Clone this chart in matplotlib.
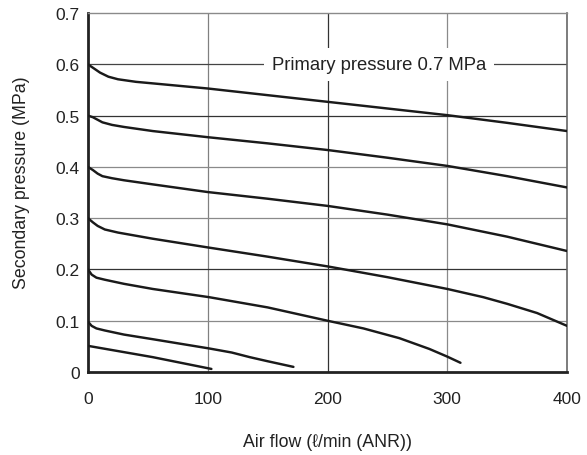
import matplotlib
matplotlib.use("Agg")
import matplotlib.pyplot as plt

plt.rcParams['font.family'] = ['Liberation Sans', 'DejaVu Sans']

# Data
x_p06 = [0, 5, 10, 17, 25, 40, 54, 100, 150, 200, 250, 300, 350, 400]
y_p06 = [0.600, 0.592, 0.584, 0.576, 0.571, 0.566, 0.563, 0.553, 0.540, 0.527, 0.514, 0.501, 0.486, 0.470]
x_p05 = [0, 4, 8, 12, 20, 30, 54, 100, 150, 200, 250, 300, 350, 400]
y_p05 = [0.500, 0.497, 0.492, 0.487, 0.482, 0.478, 0.470, 0.458, 0.446, 0.433, 0.418, 0.402, 0.382, 0.360]
x_p04 = [0, 4, 8, 12, 20, 30, 54, 100, 150, 200, 250, 300, 350, 400]
y_p04 = [0.400, 0.394, 0.387, 0.382, 0.378, 0.374, 0.366, 0.351, 0.338, 0.324, 0.307, 0.288, 0.264, 0.236]
x_p03 = [0, 4, 8, 14, 25, 54, 100, 150, 200, 250, 300, 330, 350, 375, 400]
y_p03 = [0.300, 0.292, 0.285, 0.278, 0.272, 0.260, 0.243, 0.225, 0.206, 0.185, 0.162, 0.146, 0.133, 0.115, 0.090]
x_p02 = [0, 3, 7, 14, 30, 54, 101, 150, 200, 230, 260, 285, 300, 311]
y_p02 = [0.200, 0.190, 0.184, 0.180, 0.172, 0.162, 0.146, 0.126, 0.100, 0.085, 0.066, 0.045, 0.030, 0.018]
x_p01 = [0, 3, 7, 14, 30, 54, 101, 120, 135, 150, 171.5]
y_p01 = [0.098, 0.090, 0.085, 0.081, 0.073, 0.064, 0.046, 0.038, 0.029, 0.021, 0.010]
x_p005 = [0, 54, 103]
y_p005 = [0.051, 0.029, 0.006]

curves = [(x_p06, y_p06), (x_p05, y_p05), (x_p04, y_p04), (x_p03, y_p03),
          (x_p02, y_p02), (x_p01, y_p01), (x_p005, y_p005)]

x_ticks = [0, 100, 200, 300, 400]
y_ticks = [0, 0.1, 0.2, 0.3, 0.4, 0.5, 0.6, 0.7]
y_ticklabels = ['0', '0.1', '0.2', '0.3', '0.4', '0.5', '0.6', '0.7']

label_text = 'Primary pressure 0.7 MPa'
x_label = 'Air flow (ℓ/min (ANR))'
y_label = 'Secondary pressure (MPa)'

fig = plt.figure(figsize=(5.87, 4.56), dpi=100)
ax = fig.add_axes([0.150, 0.182, 0.816, 0.787])
ax.set_xlim(0, 400)
ax.set_ylim(0, 0.7)

# grid lines with varying shades as in reference
vgrid = {100: '#808080', 200: '#333333', 300: '#8a8a8a'}
hgrid = {0.1: '#8a8a8a', 0.2: '#333333', 0.3: '#8a8a8a', 0.4: '#8a8a8a',
         0.5: '#333333', 0.6: '#444444'}
for xv, c in vgrid.items():
    ax.axvline(xv, color=c, lw=0.9, zorder=1)
for yv, c in hgrid.items():
    ax.axhline(yv, color=c, lw=0.9, zorder=1)

for xs, ys in curves:
    ax.plot(xs, ys, color='#1a1a1a', lw=1.75, solid_capstyle='round',
            solid_joinstyle='round', zorder=3)

ax.text(243, 0.6, label_text, ha='center', va='center', fontsize=13.3,
        color='#222222', zorder=4,
        bbox=dict(boxstyle='square,pad=0.42', facecolor='white', edgecolor='none'))

ax.set_xticks(x_ticks)
ax.set_yticks(y_ticks)
ax.set_yticklabels(y_ticklabels)
ax.tick_params(axis='both', length=0, labelsize=12.5, colors='#222222')
ax.tick_params(axis='x', pad=14)
ax.tick_params(axis='y', pad=6)

ax.spines['left'].set_linewidth(2.0)
ax.spines['left'].set_color('#222222')
ax.spines['bottom'].set_linewidth(2.0)
ax.spines['bottom'].set_color('#222222')
ax.spines['top'].set_linewidth(1.0)
ax.spines['top'].set_color('#8a8a8a')
ax.spines['right'].set_linewidth(1.2)
ax.spines['right'].set_color('#666666')

ax.set_xlabel(x_label, fontsize=12.8, color='#222222', labelpad=19)
ax.set_ylabel(y_label, fontsize=12.8, color='#222222')
ax.yaxis.set_label_coords(-0.121, 0.53)

fig.savefig('out.png', dpi=100)
